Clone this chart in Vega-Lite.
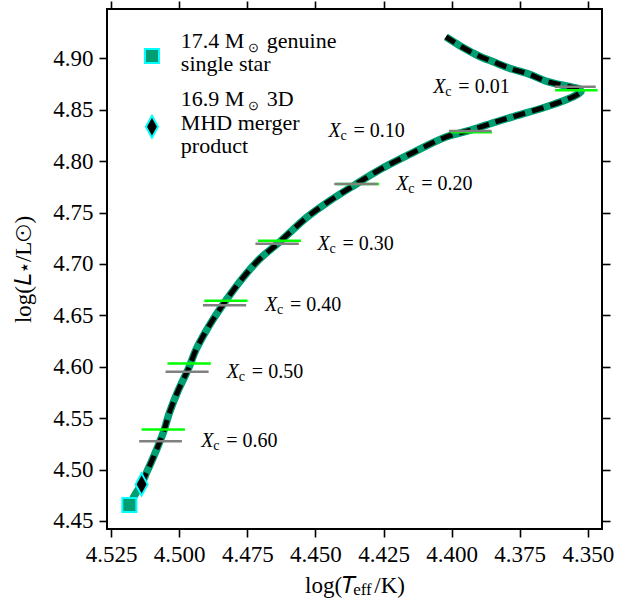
{
  "$schema": "https://vega.github.io/schema/vega-lite/v6.json",
  "width": 495,
  "height": 520,
  "autosize": {"type": "none"},
  "padding": {"left": 107, "top": 9, "right": 41, "bottom": 77},
  "background": "white",
  "title": {"text": "eff", "orient": "bottom", "anchor": "middle", "fontSize": 17, "font": "Liberation Serif", "fontWeight": "normal", "color": "black", "dx": 8, "offset": -15},
  "config": {
    "font": "Liberation Serif",
    "text": {"font": "Liberation Serif"},
    "view": {"stroke": "black", "strokeWidth": 2},
    "axis": {
      "domain": false, "grid": false,
      "tickColor": "black", "tickWidth": 1.6, "tickSize": 8,
      "labelFont": "Liberation Serif", "labelFontSize": 23, "labelColor": "black", "labelPadding": 6,
      "titleFont": "Liberation Serif", "titleFontSize": 23, "titleFontWeight": "normal", "titleColor": "black"
    }
  },
  "datasets": {
    "track": [
      {"i": 1, "x": 4.5183, "y": 4.4655}, {"i": 2, "x": 4.5161, "y": 4.4762}, {"i": 3, "x": 4.5138, "y": 4.4859},
      {"i": 4, "x": 4.5119, "y": 4.4976}, {"i": 5, "x": 4.5096, "y": 4.5112}, {"i": 6, "x": 4.5059, "y": 4.5356},
      {"i": 7, "x": 4.5035, "y": 4.5560}, {"i": 8, "x": 4.5003, "y": 4.5774}, {"i": 9, "x": 4.4965, "y": 4.5988},
      {"i": 10, "x": 4.4939, "y": 4.6163}, {"i": 11, "x": 4.4906, "y": 4.6328}, {"i": 12, "x": 4.4870, "y": 4.6484},
      {"i": 13, "x": 4.4830, "y": 4.6640}, {"i": 14, "x": 4.4767, "y": 4.6863}, {"i": 15, "x": 4.4705, "y": 4.7048},
      {"i": 16, "x": 4.4636, "y": 4.7204}, {"i": 17, "x": 4.4530, "y": 4.7457}, {"i": 18, "x": 4.4449, "y": 4.7612},
      {"i": 19, "x": 4.4350, "y": 4.7778}, {"i": 20, "x": 4.4266, "y": 4.7914}, {"i": 21, "x": 4.4145, "y": 4.8079},
      {"i": 22, "x": 4.4021, "y": 4.8235}, {"i": 23, "x": 4.3929, "y": 4.8303}, {"i": 24, "x": 4.3838, "y": 4.8381},
      {"i": 25, "x": 4.3779, "y": 4.8429}, {"i": 26, "x": 4.3655, "y": 4.8527}, {"i": 27, "x": 4.3582, "y": 4.8595},
      {"i": 28, "x": 4.3542, "y": 4.8643}, {"i": 29, "x": 4.3525, "y": 4.8678}, {"i": 30, "x": 4.3531, "y": 4.8702},
      {"i": 31, "x": 4.3571, "y": 4.8726}, {"i": 32, "x": 4.3655, "y": 4.8780}, {"i": 33, "x": 4.3717, "y": 4.8848},
      {"i": 34, "x": 4.3779, "y": 4.8896}, {"i": 35, "x": 4.3845, "y": 4.8964}, {"i": 36, "x": 4.3900, "y": 4.9023},
      {"i": 37, "x": 4.3962, "y": 4.9110}, {"i": 38, "x": 4.4021, "y": 4.9208}
    ],
    "mtrack": [
      {"i": 3, "x": 4.5138, "y": 4.4859},
      {"i": 4, "x": 4.5119, "y": 4.4976}, {"i": 5, "x": 4.5096, "y": 4.5112}, {"i": 6, "x": 4.5059, "y": 4.5356},
      {"i": 7, "x": 4.5035, "y": 4.5560}, {"i": 8, "x": 4.5003, "y": 4.5774}, {"i": 9, "x": 4.4965, "y": 4.5988},
      {"i": 10, "x": 4.4939, "y": 4.6163}, {"i": 11, "x": 4.4906, "y": 4.6328}, {"i": 12, "x": 4.4870, "y": 4.6484},
      {"i": 13, "x": 4.4830, "y": 4.6640}, {"i": 14, "x": 4.4767, "y": 4.6863}, {"i": 15, "x": 4.4705, "y": 4.7048},
      {"i": 16, "x": 4.4636, "y": 4.7204}, {"i": 17, "x": 4.4530, "y": 4.7457}, {"i": 18, "x": 4.4449, "y": 4.7612},
      {"i": 19, "x": 4.4350, "y": 4.7778}, {"i": 20, "x": 4.4266, "y": 4.7914}, {"i": 21, "x": 4.4145, "y": 4.8079},
      {"i": 22, "x": 4.4021, "y": 4.8235}, {"i": 23, "x": 4.3929, "y": 4.8303}, {"i": 24, "x": 4.3838, "y": 4.8381},
      {"i": 25, "x": 4.3779, "y": 4.8429}, {"i": 26, "x": 4.3655, "y": 4.8527}, {"i": 27, "x": 4.3582, "y": 4.8595},
      {"i": 28, "x": 4.3542, "y": 4.8643}, {"i": 29, "x": 4.3525, "y": 4.8678}, {"i": 30, "x": 4.3531, "y": 4.8702},
      {"i": 31, "x": 4.3571, "y": 4.8726}, {"i": 32, "x": 4.3655, "y": 4.8780}, {"i": 33, "x": 4.3717, "y": 4.8848},
      {"i": 34, "x": 4.3779, "y": 4.8896}, {"i": 35, "x": 4.3845, "y": 4.8964}, {"i": 36, "x": 4.3900, "y": 4.9023},
      {"i": 37, "x": 4.3962, "y": 4.9110}, {"i": 38, "x": 4.4021, "y": 4.9208}
    ],
    "rules": [
      {"series": "single", "xc": "0.60", "x": 4.5138, "x2": 4.4979, "y": 4.5391},
      {"series": "single", "xc": "0.50", "x": 4.5043, "x2": 4.4884, "y": 4.6033},
      {"series": "single", "xc": "0.40", "x": 4.4908, "x2": 4.4749, "y": 4.6642},
      {"series": "single", "xc": "0.30", "x": 4.4711, "x2": 4.4553, "y": 4.7226},
      {"series": "single", "xc": "0.20", "x": 4.4423, "x2": 4.4266, "y": 4.7778},
      {"series": "single", "xc": "0.10", "x": 4.4004, "x2": 4.3852, "y": 4.8281},
      {"series": "single", "xc": "0.01", "x": 4.3620, "x2": 4.3464, "y": 4.8689},
      {"series": "merger", "xc": "0.60", "x": 4.5147, "x2": 4.4990, "y": 4.5275},
      {"series": "merger", "xc": "0.50", "x": 4.5050, "x2": 4.4892, "y": 4.5952},
      {"series": "merger", "xc": "0.40", "x": 4.4913, "x2": 4.4754, "y": 4.6598},
      {"series": "merger", "xc": "0.30", "x": 4.4720, "x2": 4.4561, "y": 4.7197},
      {"series": "merger", "xc": "0.20", "x": 4.4431, "x2": 4.4272, "y": 4.7778},
      {"series": "merger", "xc": "0.10", "x": 4.4010, "x2": 4.3854, "y": 4.8293},
      {"series": "merger", "xc": "0.01", "x": 4.3622, "x2": 4.3471, "y": 4.8724}
    ],
    "markers": [
      {"series": "single", "x": 4.5183, "y": 4.4655},
      {"series": "merger", "x": 4.5138, "y": 4.4856},
      {"series": "single", "x": 4.5100, "y": 4.9023},
      {"series": "merger", "x": 4.5100, "y": 4.8335}
    ],
    "legtop": [
      {"a": "17.4 M", "sun": "⊙", "c": "genuine", "x": 4.4994, "y": 4.9098},
      {"a": "16.9 M", "sun": "⊙", "c": "3D", "x": 4.4994, "y": 4.8539}
    ],
    "legtext": [
      {"t": "single star", "x": 4.4994, "y": 4.8877},
      {"t": "MHD merger", "x": 4.4994, "y": 4.8303},
      {"t": "product", "x": 4.4994, "y": 4.8082}
    ],
    "labels": [
      {"t": "= 0.01", "x": 4.4067, "y": 4.8724},
      {"t": "= 0.10", "x": 4.4452, "y": 4.8293},
      {"t": "= 0.20", "x": 4.4203, "y": 4.7778},
      {"t": "= 0.30", "x": 4.4492, "y": 4.7197},
      {"t": "= 0.40", "x": 4.4685, "y": 4.6598},
      {"t": "= 0.50", "x": 4.4825, "y": 4.5952},
      {"t": "= 0.60", "x": 4.4919, "y": 4.5275}
    ]
  },
  "layer": [
    {
      "encoding": {
        "x": {"field": "x", "type": "quantitative",
              "scale": {"domain": [4.3448, 4.5265], "reverse": true, "nice": false, "zero": false},
              "axis": {"orient": "bottom", "values": [4.35, 4.375, 4.4, 4.425, 4.45, 4.475, 4.5, 4.525], "format": ".3f",
                       "title": "log(𝑇\u00a0\u00a0\u00a0/K)", "titlePadding": 8}},
        "y": {"field": "y", "type": "quantitative",
              "scale": {"domain": [4.4422, 4.948], "nice": false, "zero": false},
              "axis": {"orient": "left", "values": [4.45, 4.5, 4.55, 4.6, 4.65, 4.7, 4.75, 4.8, 4.85, 4.9], "format": ".2f",
                       "title": "log(𝐿⋆/L⊙)", "titlePadding": 17}}
      },
      "layer": [
        {"data": {"name": "track"}, "mark": {"type": "line", "color": "#009e73", "strokeWidth": 7.5, "strokeCap": "butt", "interpolate": "catmull-rom"},
         "encoding": {"order": {"field": "i", "type": "quantitative"}}},
        {"data": {"name": "mtrack"}, "mark": {"type": "line", "color": "black", "strokeWidth": 5, "strokeDash": [12, 7], "strokeCap": "butt", "interpolate": "catmull-rom"},
         "encoding": {"order": {"field": "i", "type": "quantitative"}}},
        {"data": {"name": "rules"}, "mark": {"type": "rule", "strokeWidth": 2.5},
         "encoding": {"x2": {"field": "x2"},
                      "stroke": {"field": "series", "type": "nominal", "scale": {"domain": ["single", "merger"], "range": ["#00ff00", "#808080"]}, "legend": null}}},
        {"data": {"name": "markers"}, "mark": {"type": "point", "filled": true, "opacity": 1, "stroke": "#00ffff", "strokeWidth": 2},
         "encoding": {
           "shape": {"field": "series", "type": "nominal",
                     "scale": {"domain": ["single", "merger"], "range": ["square", "M0,-1L0.55,0L0,1L-0.55,0Z"]}, "legend": null},
           "fill": {"field": "series", "type": "nominal",
                    "scale": {"domain": ["single", "merger"], "range": ["#009e73", "black"]}, "legend": null},
           "size": {"field": "series", "type": "nominal",
                    "scale": {"domain": ["single", "merger"], "range": [196, 484]}, "legend": null}
         }},
        {"data": {"name": "legtop"}, "mark": {"type": "text", "font": "Liberation Serif", "fontSize": 22, "align": "left", "baseline": "alphabetic", "color": "black"},
         "encoding": {"text": {"field": "a", "type": "nominal"}}},
        {"data": {"name": "legtop"}, "mark": {"type": "text", "fontSize": 13, "align": "left", "baseline": "alphabetic", "dx": 67, "dy": 4, "color": "black"},
         "encoding": {"text": {"field": "sun", "type": "nominal"}}},
        {"data": {"name": "legtop"}, "mark": {"type": "text", "font": "Liberation Serif", "fontSize": 22, "align": "left", "baseline": "alphabetic", "dx": 86, "color": "black"},
         "encoding": {"text": {"field": "c", "type": "nominal"}}},
        {"data": {"name": "legtext"}, "mark": {"type": "text", "font": "Liberation Serif", "fontSize": 22, "align": "left", "baseline": "alphabetic", "color": "black"},
         "encoding": {"text": {"field": "t", "type": "nominal"}}},
        {"data": {"name": "labels"}, "mark": {"type": "text", "font": "Liberation Serif", "text": "X", "fontStyle": "italic", "fontSize": 20, "align": "left", "baseline": "middle", "color": "black"}},
        {"data": {"name": "labels"}, "mark": {"type": "text", "font": "Liberation Serif", "text": "c", "fontSize": 14, "align": "left", "baseline": "middle", "dx": 12, "dy": 5, "color": "black"}},
        {"data": {"name": "labels"}, "mark": {"type": "text", "font": "Liberation Serif", "fontSize": 20, "align": "left", "baseline": "middle", "dx": 25, "color": "black"},
         "encoding": {"text": {"field": "t", "type": "nominal"}}}
      ]
    },
    {
      "data": {"name": "track"},
      "mark": {"type": "point", "opacity": 0},
      "encoding": {
        "x": {"field": "x", "type": "quantitative",
              "scale": {"domain": [4.3448, 4.5265], "reverse": true, "nice": false, "zero": false},
              "axis": {"orient": "top", "values": [4.35, 4.375, 4.4, 4.425, 4.45, 4.475, 4.5, 4.525], "labels": false, "title": null}},
        "y": {"field": "y", "type": "quantitative",
              "scale": {"domain": [4.4422, 4.948], "nice": false, "zero": false},
              "axis": {"orient": "right", "values": [4.45, 4.5, 4.55, 4.6, 4.65, 4.7, 4.75, 4.8, 4.85, 4.9], "labels": false, "title": null}}
      }
    }
  ],
  "resolve": {"axis": {"x": "independent", "y": "independent"}}
}
